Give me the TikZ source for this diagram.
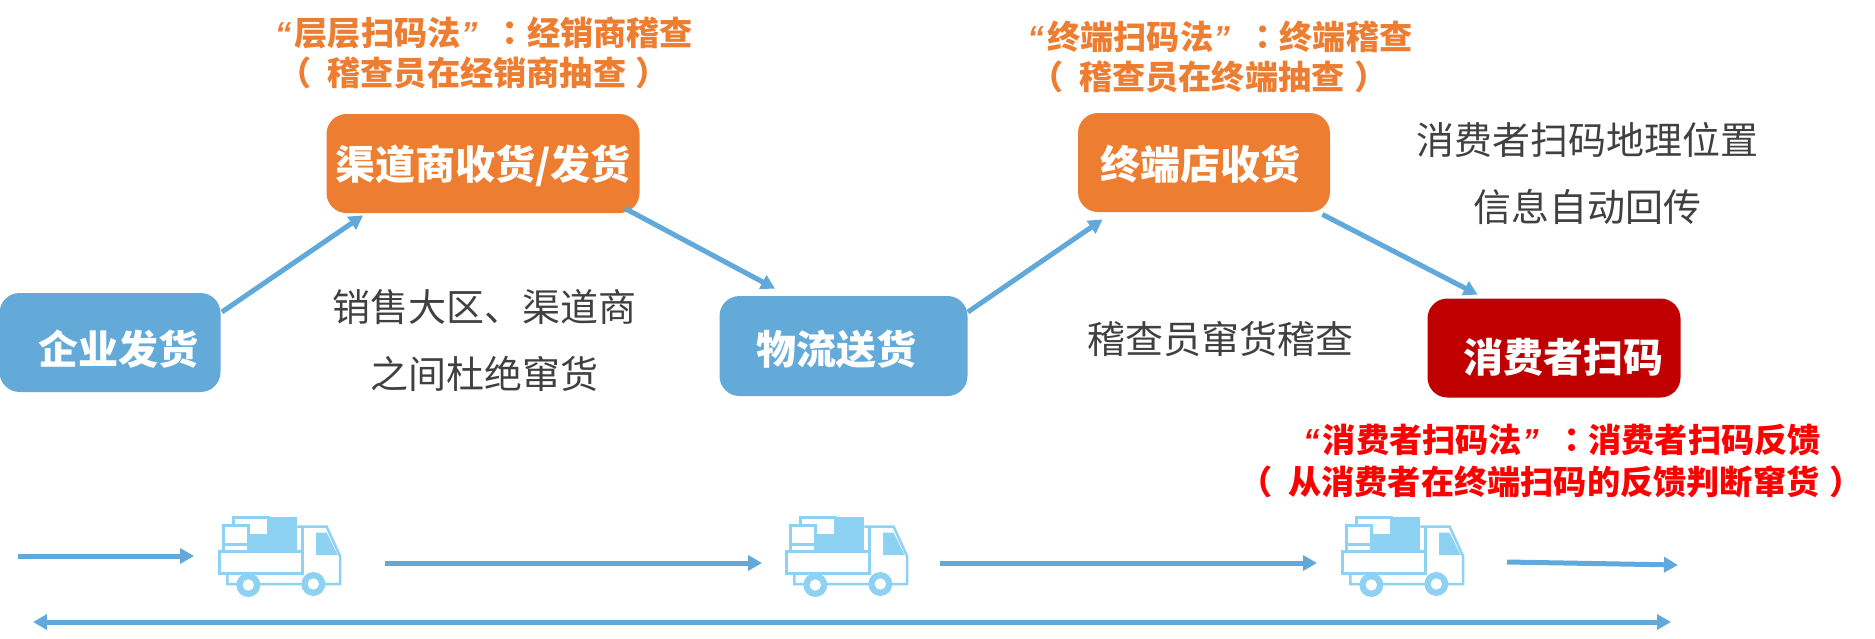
\documentclass[tikz,border=0pt]{standalone}
\usepackage{fontspec}
\usetikzlibrary{arrows.meta}
\setmainfont{Noto Sans CJK SC}
\newfontfamily\tcf{Noto Sans CJK TC}
\newfontfamily\qf{Liberation Sans}
\newcommand{\qa}{{\qf\itshape “}\hspace*{0.1em}}
\newcommand{\qb}{{\qf\itshape ”}}
\newcommand{\colonmark}{\hspace*{0.5em}{\tcf ：}}
\newcommand{\pa}{（\hspace*{7.75pt}}
\newcommand{\pb}{\hspace*{4.8pt}）}
\newcommand{\inbox}[3]{\hspace*{#1}\raisebox{#2}[0pt][0pt]{#3}}
\definecolor{bluebox}{HTML}{63AAD9}
\definecolor{orangebox}{HTML}{ED7D31}
\definecolor{redbox}{HTML}{C00000}
\definecolor{grayt}{HTML}{404040}
\definecolor{arrowblue}{HTML}{62A9DB}
\definecolor{trucklue}{HTML}{8DD1F3}
\tikzset{
  x=0.5pt,y=-0.5pt,
  flowbox/.style={draw=none,rounded corners=10pt,inner sep=0pt,text=white,
    font=\fontsize{20}{24}\selectfont\bfseries},
  note/.style={text=grayt,inner sep=0pt,align=center,font=\fontsize{19}{33.5}\selectfont},
  method/.style={inner sep=0pt,align=center,font=\fontsize{16.6}{20}\selectfont\bfseries},
  flow/.style={draw=arrowblue,line width=2.5pt,-{Triangle[length=7pt,width=7.5pt]}},
  timeline/.style={draw=arrowblue,line width=2.5pt,{Triangle[length=7pt,width=7.5pt]}-{Triangle[length=7pt,width=7.5pt]}},
  pics/truck/.style={code={
    \begin{scope}[x=0.16667pt,y=-0.16667pt,line width=1.25pt,draw=trucklue]
      \fill[trucklue] (205,80) rectangle (352,187);
      \draw[fill=white] (160,105) -- (160,82) -- (265,82) -- (265,135) -- (205,135) -- (205,105) -- cycle;
      \draw[fill=white] (130,107) rectangle (205,183);
      \draw (130,163) -- (205,163);
      \draw[fill=white] (118,184) rectangle (368,250);
      \draw (352,110) -- (440,110) -- (480,198) -- (480,282) -- (142,282) -- (142,250);
      \draw (368,110) -- (368,250);
      \fill[trucklue] (408,128) -- (440,128) -- (473,195) -- (408,195) -- cycle;
      \fill[trucklue] (205,285) circle (36);
      \fill[white] (205,285) circle (17);
      \fill[trucklue] (400,282) circle (36);
      \fill[white] (400,282) circle (17);
    \end{scope}
  }},
}
\begin{document}
\begin{tikzpicture}
\useasboundingbox (0,0) rectangle (1875,638);
% boxes
\node[flowbox,fill=bluebox,minimum width=110.5pt,minimum height=49.5pt] (blue1) at (110,342.5)
  {\inbox{9pt}{-11pt}{企业发货}};
\node[flowbox,fill=orangebox,minimum width=156.5pt,minimum height=49.5pt] (orange1) at (483,163.5)
  {\inbox{0pt}{-8pt}{渠道商收货/发货}};
\node[flowbox,fill=bluebox,minimum width=124pt,minimum height=50pt] (blue2) at (843.5,346)
  {\inbox{-7pt}{-9pt}{物流送货}};
\node[flowbox,fill=orangebox,minimum width=126pt,minimum height=49.5pt] (orange2) at (1204,162.5)
  {\inbox{-4pt}{-8.5pt}{终端店收货}};
\node[flowbox,fill=redbox,minimum width=126.5pt,minimum height=49.5pt] (redb) at (1554,348)
  {\inbox{9.5pt}{-12.25pt}{消费者扫码}};
% connectors
\draw[flow] ([shift={(1,-30.5)}]blue1.east) -- ([shift={(37,2)}]orange1.south west);
\draw[flow] ([shift={(-15,-5)}]orange1.south east) -- ([shift={(56,-7)}]blue2.north west);
\draw[flow] ([shift={(0,-34)}]blue2.east) -- ([shift={(25,7)}]orange2.south west);
\draw[flow] ([shift={(-8,2)}]orange2.south east) -- ([shift={(50.5,-3.5)}]redb.north west);
% notes
\node[note] (n1) at (484,340) {销售大区、渠道商\\之间杜绝窜货};
\node[note] (n2) at (1220,339) {稽查员窜货稽查};
\node[note] (n3) at (1587,173) {消费者扫码地理位置\\信息自动回传};
% methods
\node[method,text=orangebox] (m1) at (484,53) {\qa 层层扫码法\qb\colonmark 经销商稽查\\\hspace*{-10pt}\pa 稽查员在经销商抽查\pb};
\node[method,text=orangebox] (m2) at (1220,57) {\qa 终端扫码法\qb\colonmark 终端稽查\\\hspace*{-11pt}\pa 稽查员在终端抽查\pb};
\node[method,text=red,font=\fontsize{16.6}{21}\selectfont\bfseries] (m3) at (1562,461) {\qa 消费者扫码法\qb\colonmark 消费者扫码反馈\\\hspace*{-11pt}\pa 从消费者在终端扫码的反馈判断窜货\pb};
% trucks
\pic at (180,490) {truck};
\pic at (747,490) {truck};
\pic at (1303,490) {truck};
% timeline
\coordinate (a0) at (18,556);
\coordinate (a1) at (194,556);
\coordinate (b0) at (385,563);
\coordinate (b1) at (762,563);
\coordinate (c0) at (940,563);
\coordinate (c1) at (1317,563);
\coordinate (d0) at (1507,562);
\coordinate (d1) at (1678,565);
\coordinate (e0) at (33,622);
\coordinate (e1) at (1671,622);
\draw[flow] (a0) -- (a1);
\draw[flow] (b0) -- (b1);
\draw[flow] (c0) -- (c1);
\draw[flow] (d0) -- (d1);
\draw[timeline] (e0) -- (e1);
\end{tikzpicture}
\end{document}
